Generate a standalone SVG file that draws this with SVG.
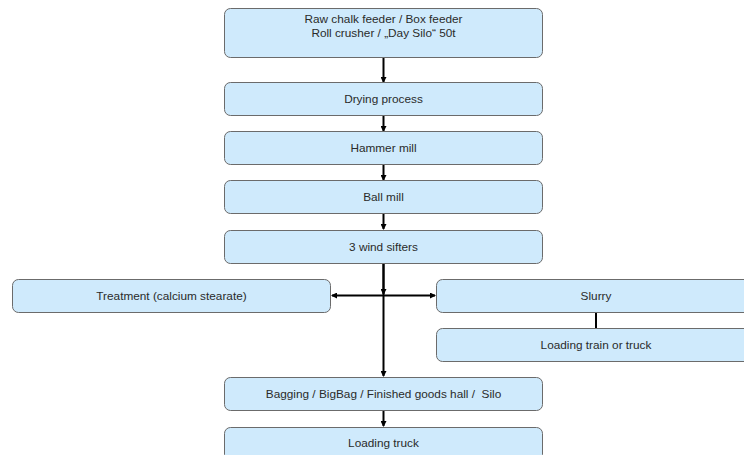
<svg xmlns="http://www.w3.org/2000/svg" width="744" height="455" viewBox="0 0 744 455">
<style>
.box{fill:#cfeafc;stroke:#6b6b6b;stroke-width:1}
.t{font-family:"Liberation Sans",Arial,sans-serif;font-size:11.8px;fill:#2a2a2a;text-anchor:middle}
.c{stroke:#000;stroke-width:2;fill:none}
</style>
<defs>
<marker id="ah" markerWidth="6" markerHeight="6" refX="5" refY="3" orient="auto" markerUnits="userSpaceOnUse">
<path d="M0,0 L6,3 L0,6 Z" fill="#000"/>
</marker>
</defs>
<rect width="744" height="455" fill="#fff"/>
<g id="connectors">
<line class="c" x1="383.5" y1="57" x2="383.5" y2="82" marker-end="url(#ah)"/>
<line class="c" x1="383.5" y1="115" x2="383.5" y2="131" marker-end="url(#ah)"/>
<line class="c" x1="383.5" y1="164" x2="383.5" y2="180" marker-end="url(#ah)"/>
<line class="c" x1="383.5" y1="213" x2="383.5" y2="229" marker-end="url(#ah)"/>
<line class="c" x1="383.5" y1="263" x2="383.5" y2="376" marker-end="url(#ah)"/>
<line class="c" x1="383.5" y1="263" x2="383.5" y2="294" marker-end="url(#ah)"/>
<line class="c" x1="383.5" y1="295.5" x2="332" y2="295.5" marker-end="url(#ah)"/>
<line class="c" x1="383.5" y1="295.5" x2="435" y2="295.5" marker-end="url(#ah)"/>
<line class="c" x1="596" y1="312" x2="596" y2="328"/>
<line class="c" x1="383.5" y1="410" x2="383.5" y2="426" marker-end="url(#ah)"/>
</g>
<g id="n1"><rect class="box" x="224.5" y="8.5" width="318" height="49" rx="6"/>
<text class="t" x="383.5" y="23">Raw chalk feeder / Box feeder</text>
<text class="t" x="383.5" y="37">Roll crusher / „Day Silo“ 50t</text></g>
<g id="n2"><rect class="box" x="224.5" y="82.5" width="318" height="33" rx="6"/>
<text class="t" x="383.5" y="103">Drying process</text></g>
<g id="n3"><rect class="box" x="224.5" y="131.5" width="318" height="33" rx="6"/>
<text class="t" x="383.5" y="152">Hammer mill</text></g>
<g id="n4"><rect class="box" x="224.5" y="180.5" width="318" height="33" rx="6"/>
<text class="t" x="383.5" y="201">Ball mill</text></g>
<g id="n5"><rect class="box" x="224.5" y="230.5" width="318" height="33" rx="6"/>
<text class="t" x="383.5" y="251">3 wind sifters</text></g>
<g id="n6"><rect class="box" x="12.5" y="279.5" width="318" height="33" rx="6"/>
<text class="t" x="171.5" y="300">Treatment (calcium stearate)</text></g>
<g id="n7"><rect class="box" x="436.5" y="279.5" width="320" height="33" rx="6"/>
<text class="t" x="596" y="300">Slurry</text></g>
<g id="n8"><rect class="box" x="436.5" y="328.5" width="320" height="33" rx="6"/>
<text class="t" x="596" y="349">Loading train or truck</text></g>
<g id="n9"><rect class="box" x="224.5" y="377.5" width="318" height="33" rx="6"/>
<text class="t" x="383.5" y="398" xml:space="preserve">Bagging / BigBag / Finished goods hall /  Silo</text></g>
<g id="n10"><rect class="box" x="224.5" y="427.5" width="318" height="33" rx="6"/>
<text class="t" x="383.5" y="447">Loading truck</text></g>
</svg>
